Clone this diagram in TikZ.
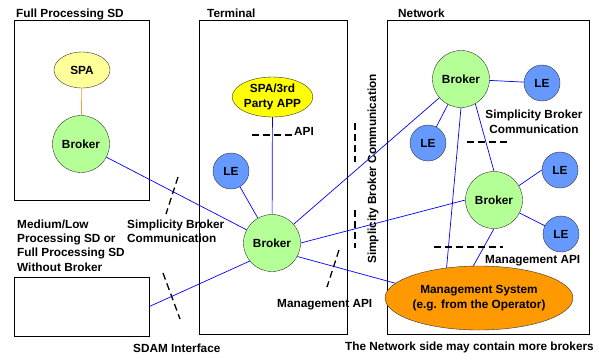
\documentclass[tikz,border=0pt]{standalone}
\usepackage{fontspec}
\setmainfont{Liberation Sans}
\usetikzlibrary{shapes.geometric}
\definecolor{brokergreen}{RGB}{180,255,150}
\definecolor{leblue}{RGB}{102,153,255}
\definecolor{spayellow}{RGB}{255,255,153}
\definecolor{appyellow}{RGB}{255,255,0}
\definecolor{mgmtorange}{RGB}{255,153,0}
\definecolor{spalink}{RGB}{235,160,60}
\tikzset{
  every node/.style={font=\fontsize{11.8}{14.3}\selectfont\bfseries, inner sep=0pt},
  area/.style={draw, line width=0.8pt},
  broker/.style={circle, draw=black!80, fill=brokergreen, minimum size=57pt},
  le/.style={circle, draw=black!80, fill=leblue, minimum size=36pt},
  link/.style={blue, line width=0.7pt},
  cutmark/.style={line width=1.3pt, dash pattern=on 7pt off 4pt},
  caption/.style={anchor=base west},
}

\begin{document}
\begin{tikzpicture}[x=1pt, y=-1pt]
            \useasboundingbox (0,0) rectangle (599,357);
              % Domains
              \node[area, minimum width=135pt, minimum height=180pt] (fullsd) at (81.5,110) {};
              \node[area, minimum width=148pt, minimum height=314pt] (terminal) at (273,177) {};
              \node[area, minimum width=202pt, minimum height=314pt] (network) at (488,177) {};
              \node[area, minimum width=135pt, minimum height=59pt] (lowsd) at (81.5,306.5) {};

              \node[caption] (fullsdlabel) at (16,17.5) {Full Processing SD};
              \node[caption] (terminallabel) at (207,17.5) {Terminal};
              \node[caption] (networklabel) at (398,17.5) {Network};
              \node[anchor=north west, align=left] (lowsdlabel) at (17,219.5)
                {Medium/Low\\Processing SD or\\Full Processing SD\\Without Broker};

              % Full processing SD
              \node[ellipse, draw=black!80, fill=spayellow, minimum width=56pt, minimum height=36pt] (spa) at (82,70) {SPA};
              \node[broker] (sdbroker) at (81,144) {Broker};

              % Terminal
              \node[ellipse, draw=black!80, fill=appyellow, minimum width=75pt, minimum height=40pt, align=center] (app) at (272.5,97) {SPA/3rd\\Party APP};
              \node[le] (tle) at (231,171) {LE};
              \node[broker] (tbroker) at (272,243) {Broker};

              % Network
              \node[broker] (nbroker) at (461,79) {Broker};
              \node[broker] (mbroker) at (494,200) {Broker};
              \node[le] (nle1) at (542,83) {LE};
              \node[le] (nle2) at (428,143) {LE};
              \node[le] (nle3) at (560,170) {LE};
              \node[le] (nle4) at (561,234) {LE};
              \node[ellipse, draw=black!80, fill=mgmtorange, minimum width=148pt, minimum height=64pt, align=center] (mgmt) at (479,298)
                {Management System\\(e.g. from the Operator)};

              \draw[spalink, line width=0.7pt] (spa) -- (sdbroker);
              \draw[link] (sdbroker) -- (tbroker);
              \draw[link] (lowsd.east) -- (tbroker.219);
              \draw[link] (app) -- (tbroker);
              \draw[link] (tle) -- (tbroker);
              \draw[link] (tbroker) -- (nbroker);
              \draw[link] (tbroker.east) -- (mbroker.west);
              \draw[link] (tbroker.-28) -- (mgmt.170);
              \draw[link] (nbroker) -- (nle1);
              \draw[link] (nbroker) -- (nle2);
              \draw[link] (nbroker.-60) -- (mbroker.north);
              \draw[link] (nbroker.south) -- (mgmt.137);
              \draw[link] (mbroker.30) -- (nle3.west);
              \draw[link] (mbroker) -- (nle4);
              \draw[link] (mbroker.south) -- (mgmt.100);

              % Interfaces
              \draw[cutmark] (178,177) -- (166,214);
              \draw[cutmark] (163,273) -- (180,319);
              \draw[cutmark] (252,135) -- (292,135);
              \draw[cutmark] (355,123) -- (355,162);
              \draw[cutmark] (355,210) -- (355,248);
              \draw[cutmark] (339,250) -- (327,287);
              \draw[cutmark] (434,247) -- (503,247);
              \draw[cutmark] (467,142) -- (507,142);

              \node[anchor=north west, align=left] (sbcleft) at (127,219.5) {Simplicity Broker\\Communication};
              \node[anchor=north, align=center] (sbcnet) at (534,110) {Simplicity Broker\\Communication};
              \node[rotate=90] (sbcmid) at (373,169) {Simplicity Broker Communication};
              \node[caption] (apilabel) at (294,135) {API};
              \node[caption] (tmgmtapi) at (277,307) {Management API};
              \node[caption] (nmgmtapi) at (485,263) {Management API};
              \node[caption] (sdamlabel) at (133,352.5) {SDAM Interface};
              \node[caption] (morebrokers) at (345,350.5) {The Network side may contain more brokers};
          \end{tikzpicture}
\end{document}
